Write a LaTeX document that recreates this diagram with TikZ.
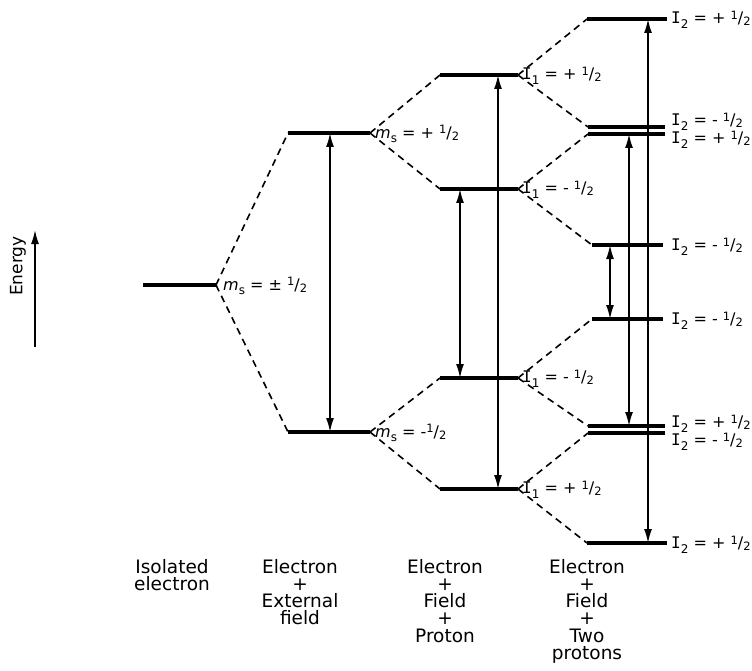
\documentclass[tikz,border=0pt]{standalone}
\usepackage{fontspec}
\setmainfont{DejaVu Sans}
\newfontfamily\monoI{DejaVu Sans Mono}
\usetikzlibrary{arrows.meta}
\newcommand{\hlf}{\raisebox{.5ex}{\fontsize{11.5}{11.5}\selectfont 1}{\fontsize{16}{16}\selectfont /}\raisebox{-.2ex}{\fontsize{11.5}{11.5}\selectfont 2}}
\newcommand{\Iof}[1]{{\monoI I}\raisebox{-0.55ex}{\fontsize{12}{12}\selectfont #1}}
\newcommand{\msub}{{\itshape m}\raisebox{-0.45ex}{\fontsize{12}{12}\selectfont s}}
\begin{document}
\begin{tikzpicture}[x=1pt,y=-1pt,
  level/.style={line width=3.2pt},
  split/.style={line width=1.6pt, dash pattern=on 7pt off 5pt},
  trans/.style={line width=1.6pt, {Latex[length=14pt,width=8pt]}-{Latex[length=14pt,width=8pt]}},
  lab/.style={anchor=west, inner sep=0pt, font=\fontsize{16}{16}\selectfont},
  capt/.style={anchor=north, align=center, inner sep=0pt, font=\fontsize{18.5}{17.2}\selectfont}]
\useasboundingbox (0,0) rectangle (752,671);

% level end points
\coordinate (z0l) at (143,285); \coordinate (z0r) at (216,285);
\coordinate (a1l) at (288,133); \coordinate (a1r) at (370,133);
\coordinate (a2l) at (288,432); \coordinate (a2r) at (370,432);
\coordinate (b1l) at (440,75);  \coordinate (b1r) at (518,75);
\coordinate (b2l) at (440,189); \coordinate (b2r) at (518,189);
\coordinate (b3l) at (440,378); \coordinate (b3r) at (518,378);
\coordinate (b4l) at (440,489); \coordinate (b4r) at (518,489);
\coordinate (c1l) at (587,19);  \coordinate (c1r) at (667,19);
\coordinate (c2l) at (588,127); \coordinate (c2r) at (665,127);
\coordinate (c3l) at (588,134); \coordinate (c3r) at (665,134);
\coordinate (c4l) at (592,245); \coordinate (c4r) at (663,245);
\coordinate (c5l) at (592,319); \coordinate (c5r) at (663,319);
\coordinate (c6l) at (588,426); \coordinate (c6r) at (665,426);
\coordinate (c7l) at (588,433); \coordinate (c7r) at (665,433);
\coordinate (c8l) at (587,543); \coordinate (c8r) at (667,543);

% levels
\foreach \n in {z0,a1,a2,b1,b2,b3,b4,c1,c2,c3,c4,c5,c6,c7,c8}
  \draw[level] (\n l) -- (\n r);

% splittings
\draw[split] (z0r) -- (a1l);
\draw[split] (z0r) -- (a2l);
\draw[split] (a1r) -- (b1l);
\draw[split] (a1r) -- (b2l);
\draw[split] (a2r) -- (b3l);
\draw[split] (a2r) -- (b4l);
\draw[split] (b1r) -- (c1l);
\draw[split] (b1r) -- (c2l);
\draw[split] (b2r) -- (c3l);
\draw[split] (b2r) -- (c4l);
\draw[split] (b3r) -- (c5l);
\draw[split] (b3r) -- (c6l);
\draw[split] (b4r) -- (c7l);
\draw[split] (b4r) -- (c8l);

% transitions
\coordinate (t1a) at (330,133); \coordinate (t1b) at (330,432);
\coordinate (t2a) at (460,189); \coordinate (t2b) at (460,378);
\coordinate (t3a) at (498,75);  \coordinate (t3b) at (498,489);
\coordinate (t4a) at (610,245); \coordinate (t4b) at (610,319);
\coordinate (t5a) at (629,134); \coordinate (t5b) at (629,426);
\coordinate (t6a) at (648,19);  \coordinate (t6b) at (648,543);
\foreach \i in {1,...,6}
  \draw[trans] (t\i a) -- (t\i b);

% energy axis
\coordinate (e0) at (35,347); \coordinate (e1) at (35,230);
\draw[line width=1.6pt, -{Latex[length=14pt,width=8pt]}] (e0) -- (e1);
\node[rotate=90, font=\fontsize{17}{17}\selectfont] (energy) at (18,266) {Energy};

% level labels
\node[lab] (lz0) at (223,286) {\msub{} = ± \hlf};
\node[lab] (la1) at (375,134) {\msub{} = + \hlf};
\node[lab] (la2) at (375,433) {\msub{} = -\hlf};
\node[lab] (lb1) at (522,76)  {\Iof{1} = + \hlf};
\node[lab] (lb2) at (522,190) {\Iof{1} = - \hlf};
\node[lab] (lb3) at (522,379) {\Iof{1} = - \hlf};
\node[lab] (lb4) at (522,490) {\Iof{1} = + \hlf};
\node[lab] (lc1) at (671,20)  {\Iof{2} = + \hlf};
\node[lab] (lc2) at (671,122) {\Iof{2} = - \hlf};
\node[lab] (lc3) at (671,140) {\Iof{2} = + \hlf};
\node[lab] (lc4) at (671,247) {\Iof{2} = - \hlf};
\node[lab] (lc5) at (671,321) {\Iof{2} = - \hlf};
\node[lab] (lc6) at (671,424) {\Iof{2} = + \hlf};
\node[lab] (lc7) at (671,442) {\Iof{2} = - \hlf};
\node[lab] (lc8) at (671,545) {\Iof{2} = + \hlf};

% captions
\node[capt] (cap0) at (172,559) {Isolated\\electron};
\node[capt] (cap1) at (300,559) {Electron\\+\\External\\field};
\node[capt] (cap2) at (445,559) {Electron\\+\\Field\\+\\Proton};
\node[capt] (cap3) at (587,559) {Electron\\+\\Field\\+\\Two\\protons};
\end{tikzpicture}
\end{document}
